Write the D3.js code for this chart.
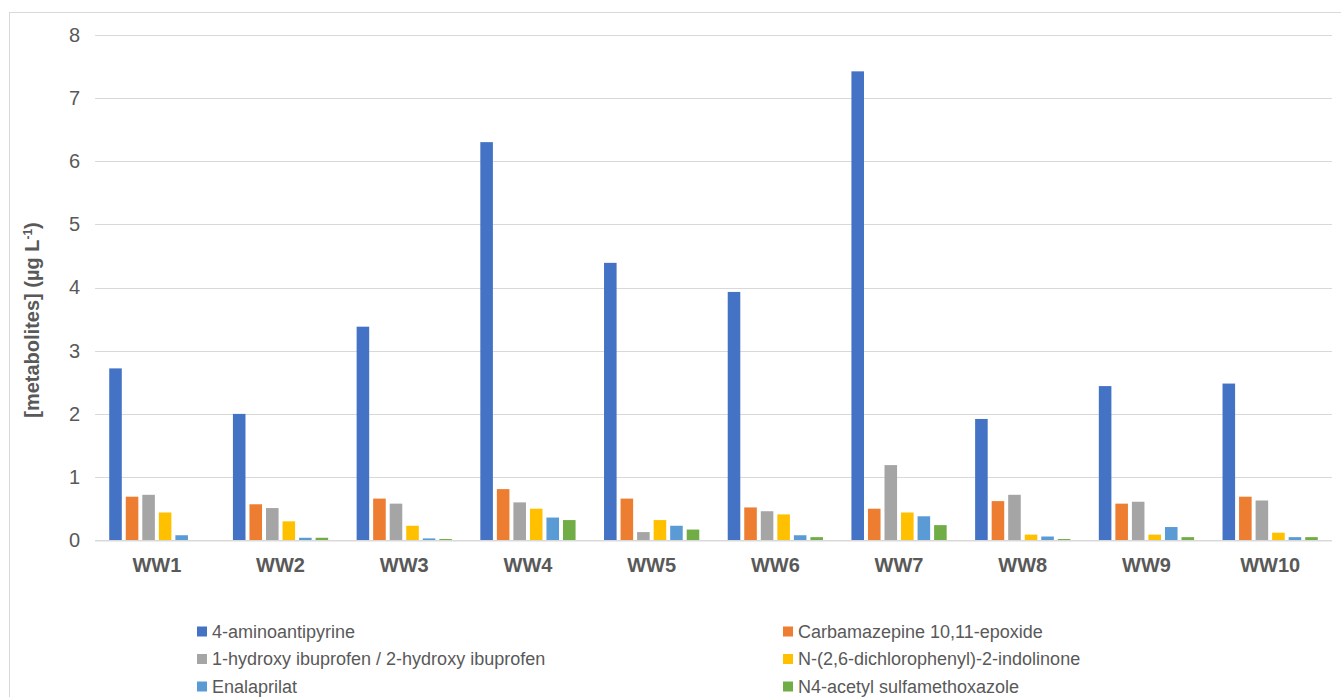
<!DOCTYPE html>
<html>
<head>
<meta charset="utf-8">
<script src="https://cdn.jsdelivr.net/npm/d3@7"></script>
<style>
  html, body { margin: 0; padding: 0; background: #fff; }
  svg { display: block; font-family: "Liberation Sans", Arial, sans-serif; }
</style>
</head>
<body>
<svg id="chart" width="1341" height="697"></svg>
<script>
// Sampling sites
const sites = ["WW1", "WW2", "WW3", "WW4", "WW5", "WW6", "WW7", "WW8", "WW9", "WW10"];

// Metabolite names (legend order)
const metabolites = [
  "4-aminoantipyrine",
  "Carbamazepine 10,11-epoxide",
  "1-hydroxy ibuprofen / 2-hydroxy ibuprofen",
  "N-(2,6-dichlorophenyl)-2-indolinone",
  "Enalaprilat",
  "N4-acetyl sulfamethoxazole"
];

// Concentrations (µg L-1) per site
const aminoantipyrine   = [2.72, 2.00, 3.38, 6.30, 4.39, 3.93, 7.42, 1.92, 2.44, 2.48];
const carbamazepineEpox = [0.69, 0.57, 0.66, 0.81, 0.66, 0.52, 0.50, 0.62, 0.58, 0.69];
const hydroxyIbuprofen  = [0.72, 0.51, 0.58, 0.60, 0.13, 0.46, 1.19, 0.72, 0.61, 0.63];
const dichloroIndolinone= [0.44, 0.30, 0.23, 0.50, 0.32, 0.41, 0.44, 0.09, 0.09, 0.12];
const enalaprilat       = [0.08, 0.04, 0.03, 0.36, 0.23, 0.08, 0.38, 0.06, 0.21, 0.05];
const n4Sulfamethoxazole= [0.00, 0.04, 0.02, 0.32, 0.17, 0.05, 0.24, 0.02, 0.05, 0.05];

const yTicks = [0, 1, 2, 3, 4, 5, 6, 7, 8];

const seriesValues = [aminoantipyrine, carbamazepineEpox, hydroxyIbuprofen,
                      dichloroIndolinone, enalaprilat, n4Sulfamethoxazole];
const colors = ["#4472C4", "#ED7D31", "#A5A5A5", "#FFC000", "#5B9BD5", "#70AD47"];

const svg = d3.select("#chart");
const textColor = "#595959";
const gridColor = "#d9d9d9";

// Outer chart frame
svg.append("rect")
  .attr("x", 9.5).attr("y", 12.5)
  .attr("width", 1400).attr("height", 720)
  .attr("fill", "none").attr("stroke", gridColor).attr("stroke-width", 1);

const plot = { left: 95, right: 1332, top: 34.7, bottom: 540.3 };

const x0 = d3.scaleBand()
  .domain(sites)
  .range([plot.left, plot.right])
  .paddingInner(0.23)
  .paddingOuter(0.115);

const x1 = d3.scaleBand()
  .domain(d3.range(metabolites.length))
  .range([0, x0.bandwidth()])
  .paddingInner(0.24);

const y = d3.scaleLinear()
  .domain([0, 8])
  .range([plot.bottom, plot.top]);

// Horizontal gridlines
svg.append("g")
  .selectAll("line")
  .data(yTicks.filter(d => d !== 0))
  .join("line")
  .attr("x1", plot.left).attr("x2", plot.right)
  .attr("y1", d => Math.round(y(d)) + 0.5)
  .attr("y2", d => Math.round(y(d)) + 0.5)
  .attr("stroke", gridColor).attr("stroke-width", 1);

// Y axis tick labels
const yAxis = d3.axisLeft(y).tickValues(yTicks).tickSize(0).tickPadding(15)
  .tickFormat(d3.format("d"));
const yg = svg.append("g").attr("transform", `translate(${plot.left},0)`).call(yAxis);
yg.select(".domain").remove();
yg.selectAll("text")
  .attr("fill", textColor)
  .style("font-size", "20px")
  .style("font-family", "'Liberation Sans', Arial, sans-serif");

// Bars
const groups = svg.append("g")
  .selectAll("g")
  .data(sites)
  .join("g")
  .attr("transform", d => `translate(${x0(d)},0)`);

groups.selectAll("rect")
  .data((site, i) => seriesValues.map((vals, k) => ({ k, v: vals[i] })))
  .join("rect")
  .filter(d => d.v > 0)
  .attr("x", d => x1(d.k))
  .attr("width", x1.bandwidth())
  .attr("y", d => y(d.v))
  .attr("height", d => y(0) - y(d.v))
  .attr("fill", d => colors[d.k]);

// Category axis line
svg.append("line")
  .attr("x1", plot.left).attr("x2", plot.right)
  .attr("y1", y(0) + 0.5).attr("y2", y(0) + 0.5)
  .attr("stroke", gridColor).attr("stroke-width", 1.5);

// X axis labels
const xAxis = d3.axisBottom(x0).tickSize(0).tickPadding(18);
const xg = svg.append("g").attr("transform", `translate(0,${y(0)})`).call(xAxis);
xg.select(".domain").remove();
xg.selectAll("text")
  .attr("fill", textColor)
  .style("font-size", "20px")
  .style("font-weight", "bold")
  .style("font-family", "'Liberation Sans', Arial, sans-serif");

// Y axis title
const title = svg.append("text")
  .attr("transform", "translate(39,320) rotate(-90)")
  .attr("text-anchor", "middle")
  .attr("fill", textColor)
  .style("font-size", "20px")
  .style("font-weight", "bold");
title.append("tspan").text("[metabolites] (µg L");
title.append("tspan").attr("dy", -7).style("font-size", "12px").text("-1");
title.append("tspan").attr("dy", 7).text(")");

// Legend, two columns
const legendCols = [197, 783];
const legendRows = [631.5, 659, 686.5];
const legend = svg.append("g")
  .selectAll("g")
  .data(metabolites)
  .join("g")
  .attr("transform", (d, i) => `translate(${legendCols[i % 2]},${legendRows[Math.floor(i / 2)]})`);

legend.append("rect")
  .attr("x", 0).attr("y", -5)
  .attr("width", 10).attr("height", 10)
  .attr("fill", (d, i) => colors[i]);

legend.append("text")
  .attr("x", 15).attr("y", 0)
  .attr("dy", "0.35em")
  .attr("fill", textColor)
  .style("font-size", "18px")
  .text(d => d);
</script>
</body>
</html>
